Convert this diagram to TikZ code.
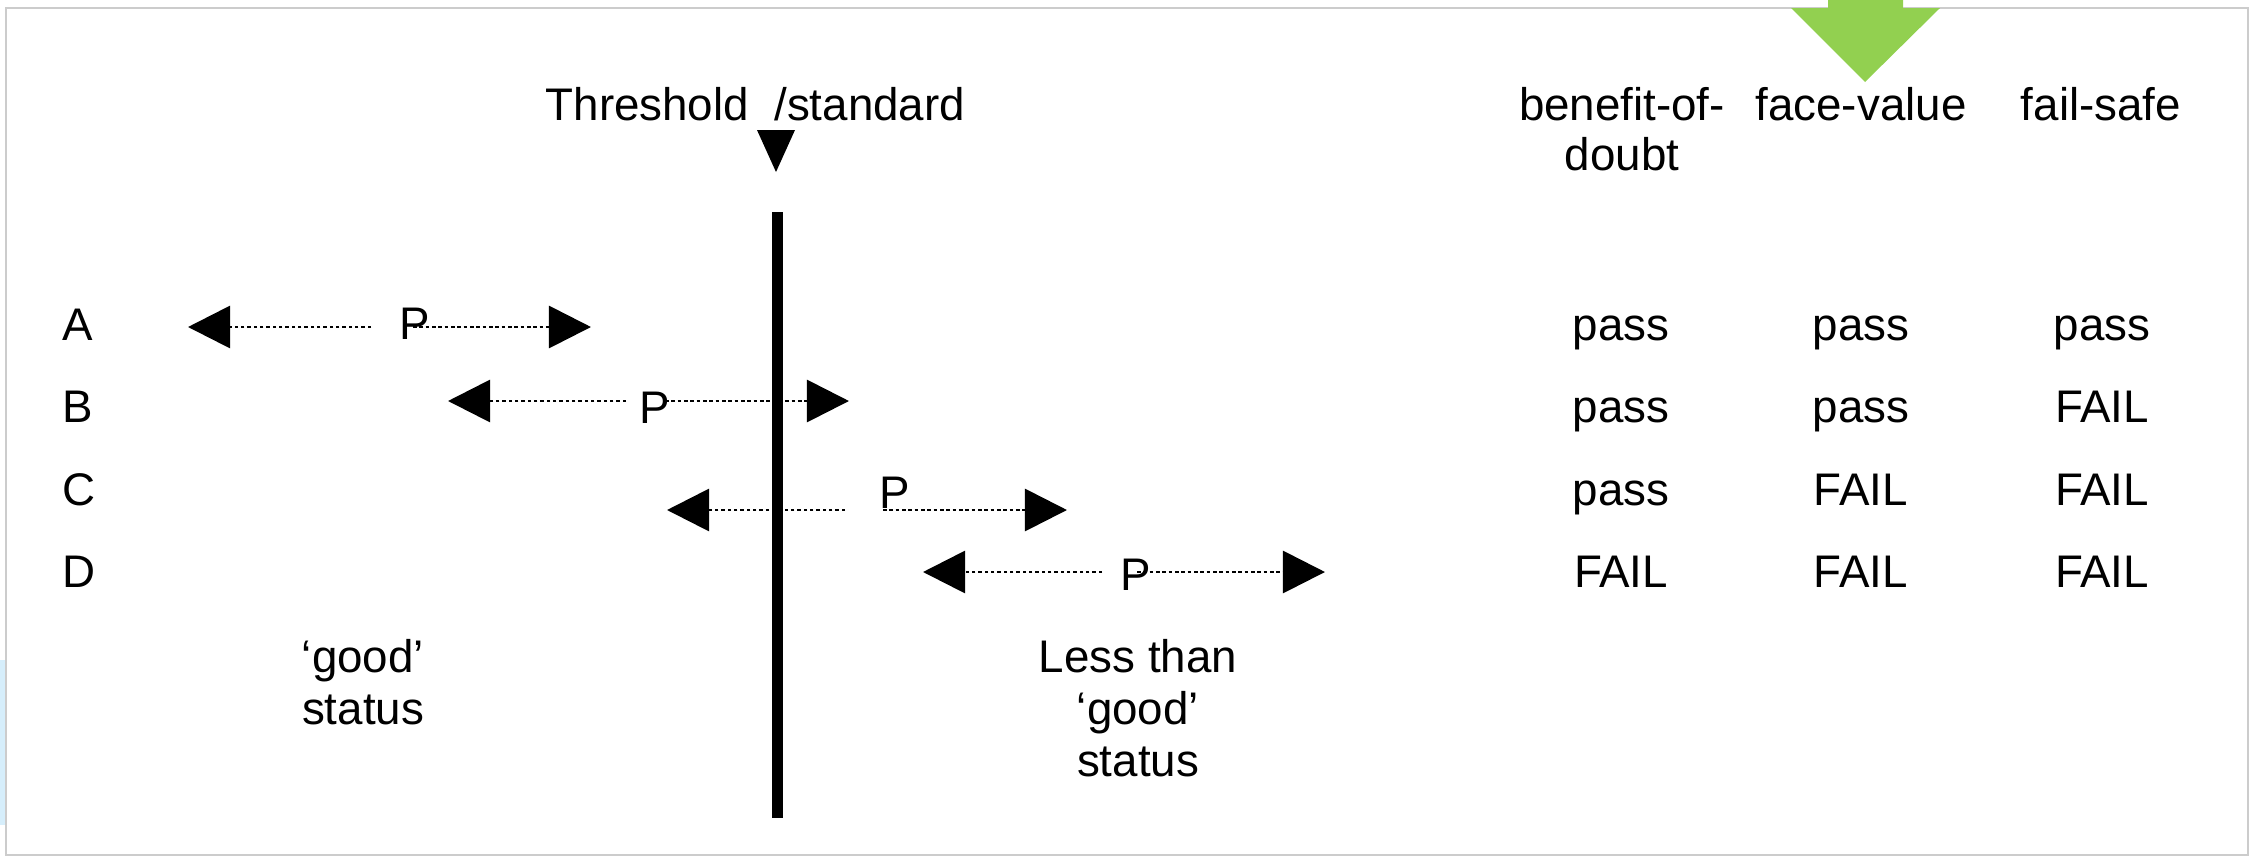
\documentclass[tikz,border=0pt]{standalone}
\usepackage{fontspec}
\setmainfont{Liberation Sans}
\usetikzlibrary{arrows.meta}
\definecolor{pointergreen}{HTML}{92D050}
\definecolor{edgeblue}{HTML}{D6EEFB}

\begin{document}
\begin{tikzpicture}[
	x=0.01cm, y=-0.01cm,
	every node/.style={color=black, inner sep=0pt, font=\fontsize{13}{14}\selectfont},
	frame/.style={draw=gray!40, line width=0.6pt},
	threshold line/.style={line width=0.11cm},
	range line/.style={line width=0.8pt, dash pattern=on 1pt off 0.8pt,
		-{Triangle[length=0.42cm, width=0.42cm]}},
	heading/.style={anchor=north, align=center},
	status/.style={heading, font=\fontsize{13}{14.8}\selectfont},
	verdict/.style={anchor=base}
	]
	\useasboundingbox (0,0) rectangle (2259,860);
	% slide frame
	\fill[edgeblue] (0,660) rectangle (7,825);
	\draw[frame] (6,8) rectangle (2248,855);
	\fill[pointergreen] (1828,0) -- (1903,0) -- (1903,8) -- (1940,8) -- (1865,82)
		-- (1791,8) -- (1828,8) -- cycle;
	% threshold
	\node[anchor=north west] (thr) at (545,87) {Threshold\ \ /standard};
	\fill (757,130) -- (795,130) -- (776,172) -- cycle;
	\coordinate (thr-top) at (777,212);
	\coordinate (thr-bot) at (777,818);
	\draw[threshold line] (thr-top) -- (thr-bot);
	% rows
	\node[anchor=base west] (rowA) at (62,340) {A};
	\node[anchor=base west] (rowB) at (62,422) {B};
	\node[anchor=base west] (rowC) at (62,505) {C};
	\node[anchor=base west] (rowD) at (62,587) {D};
	% A
	\coordinate (A-left) at (188,327);
	\coordinate (A-right) at (591,327);
	\node (pA) at (415,324) {P};
	\draw[range line] ([xshift=-0.28cm]pA.west |- A-left) -- (A-left);
	\draw[range line] ([xshift=0.14cm]pA.west |- A-right) -- (A-right);
	% B
	\coordinate (B-left) at (448,401);
	\coordinate (B-right) at (849,401);
	\node (pB) at (655,408) {P};
	\draw[range line] ([xshift=-0.13cm]pB.west |- B-left) -- (B-left);
	\draw[range line] ([xshift=0.26cm]pB.west |- B-right) -- (B-right);
	% C
	\coordinate (C-left) at (667,510);
	\coordinate (C-right) at (1067,510);
	\node (pC) at (895,493) {P};
	\draw[range line] ([xshift=-0.34cm]pC.west |- C-left) -- (C-left);
	\draw[range line] ([xshift=0.04cm]pC.west |- C-right) -- (C-right);
	% D
	\coordinate (D-left) at (923,572);
	\coordinate (D-right) at (1325,572);
	\node (pD) at (1136,575) {P};
	\draw[range line] ([xshift=-0.18cm]pD.west |- D-left) -- (D-left);
	\draw[range line] ([xshift=0.17cm]pD.west |- D-right) -- (D-right);
	% status labels
	\node[status] (good) at (363,639) {‘good’\\status};
	\node[status] (lessgood) at (1138,639) {Less than\\‘good’\\status};
	% columns
	\node[heading] (bod) at (1622,87) {benefit-of-\\doubt};
	\node[heading] (fv) at (1861,87) {face-value};
	\node[heading] (fs) at (2101,87) {fail-safe};
	\node[verdict] (bodA) at (1621,340) {pass};
	\node[verdict] (fvA) at (1861,340) {pass};
	\node[verdict] (fsA) at (2102,340) {pass};
	\node[verdict] (bodB) at (1621,422) {pass};
	\node[verdict] (fvB) at (1861,422) {pass};
	\node[verdict] (fsB) at (2102,422) {FAIL};
	\node[verdict] (bodC) at (1621,505) {pass};
	\node[verdict] (fvC) at (1861,505) {FAIL};
	\node[verdict] (fsC) at (2102,505) {FAIL};
	\node[verdict] (bodD) at (1621,587) {FAIL};
	\node[verdict] (fvD) at (1861,587) {FAIL};
	\node[verdict] (fsD) at (2102,587) {FAIL};
\end{tikzpicture}
\end{document}
